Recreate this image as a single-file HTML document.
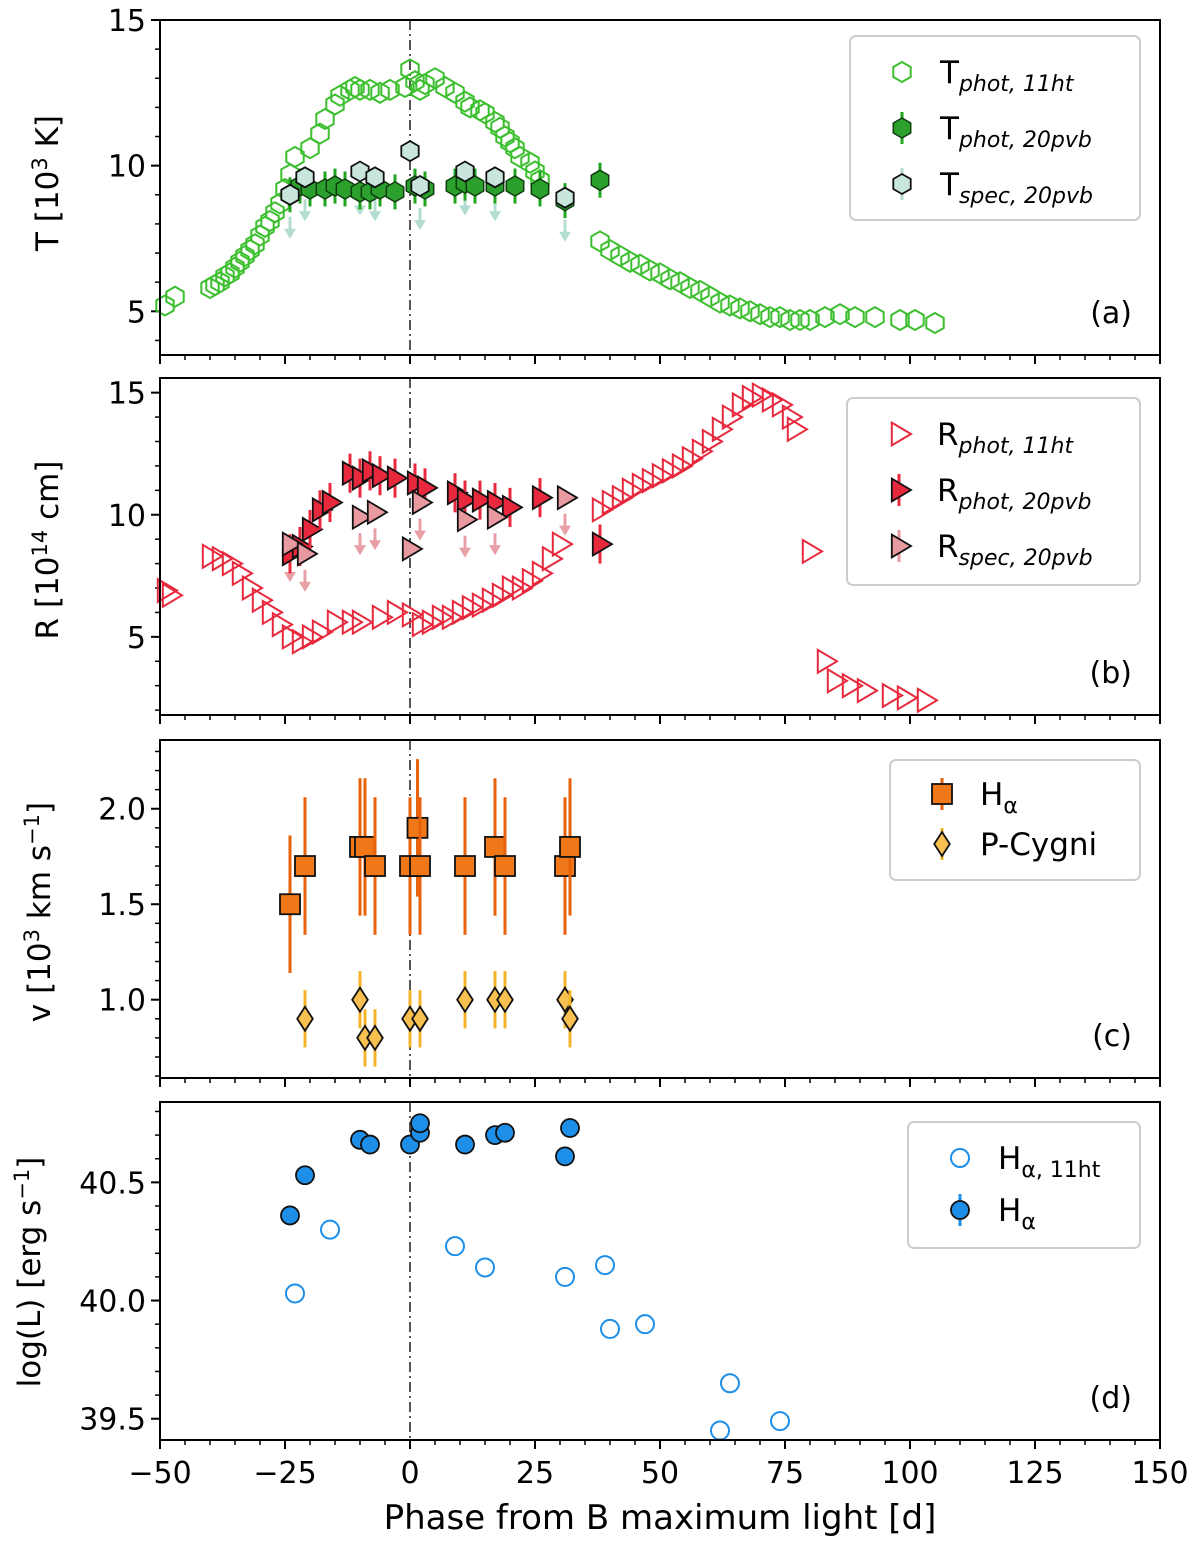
<!DOCTYPE html>
<html><head><meta charset="utf-8"><style>
body{margin:0;background:#fff}
svg{display:block;font-family:"DejaVu Sans","Liberation Sans",sans-serif}
</style></head><body>
<svg id="c" width="1200" height="1543" viewBox="0 0 1200 1543" xmlns="http://www.w3.org/2000/svg"></svg>
<script>
// ---- data ----
const tPhot11X=[-49,-47,-40,-39,-38,-37,-36,-35,-34,-33,-32,-31,-30,-29,-28,-27,-26,-25,-24,-23,-20,-18,-17,-15,-14,-12,-11,-10,-8,-6,-4,-1,0,1,2,3,5,7,9,11,12,14,15,17,18,19,20,21,22,24,25,26,38,40,42,44,46,48,50,52,54,56,58,60,62,64,66,68,70,72,74,76,78,80,83,86,89,93,98,101,105];
const tPhot11Y=[5.2,5.5,5.8,5.9,6.0,6.2,6.3,6.5,6.7,6.9,7.1,7.3,7.6,7.9,8.1,8.4,8.7,9.2,9.7,10.3,10.6,11.1,11.6,12.1,12.4,12.6,12.7,12.6,12.6,12.5,12.6,12.7,13.3,12.9,12.6,12.8,13.0,12.7,12.5,12.2,12.0,11.9,11.8,11.5,11.3,11.0,10.8,10.6,10.3,10.1,9.8,9.5,7.4,7.1,6.9,6.7,6.6,6.4,6.3,6.1,6.0,5.8,5.7,5.5,5.3,5.2,5.1,5.0,4.9,4.8,4.8,4.7,4.7,4.7,4.8,4.9,4.8,4.8,4.7,4.7,4.6];
const tPhot20X=[-24,-22,-20,-17,-15,-13,-10,-8,-6,-3,1,3,9,11,13,17,21,26,31,38];
const tPhot20Y=[9.0,9.3,9.2,9.2,9.3,9.2,9.1,9.1,9.2,9.1,9.3,9.2,9.3,9.4,9.3,9.3,9.3,9.2,8.8,9.5];
const tSpecX=[-24,-21,-10,-7,0,2,11,17,31];
const tSpecY=[9.0,9.6,9.8,9.6,10.5,9.3,9.8,9.6,8.9];
const rPhot11X=[-49,-48,-40,-38,-36,-34,-32,-30,-28,-26,-24,-22,-20,-18,-15,-12,-10,-6,-3,0,2,4,6,8,10,12,14,16,18,20,22,24,26,28,30,38,40,42,44,46,48,50,52,54,56,58,60,62,64,66,68,70,72,74,76,77,80,83,85,88,91,96,99,103];
const rPhot11Y=[6.9,6.7,8.3,8.2,8.0,7.6,7.0,6.5,6.0,5.5,5.0,4.8,5.0,5.2,5.6,5.6,5.6,5.8,6.0,5.9,5.5,5.6,5.8,5.8,6.0,6.2,6.3,6.5,6.7,7.0,7.0,7.3,7.6,8.2,8.8,10.2,10.5,10.7,11.0,11.2,11.4,11.6,11.8,12.0,12.3,12.6,13.0,13.5,14.0,14.5,14.8,14.9,14.7,14.5,14.0,13.5,8.5,4.0,3.2,3.0,2.8,2.6,2.5,2.4];
const rPhot20X=[-24,-22,-20,-18,-16,-12,-10,-8,-6,-3,1,3,9,11,14,17,20,26,38];
const rPhot20Y=[8.4,8.7,9.4,10.2,10.5,11.7,11.5,11.8,11.6,11.5,11.3,11.1,10.9,10.6,10.6,10.5,10.3,10.7,8.8];
const rSpecX=[-24,-21,-10,-7,0,2,11,17,31];
const rSpecY=[8.8,8.4,9.9,10.1,8.6,10.5,9.8,9.9,10.7];
const haVX=[-24,-21,-10,-9,-7,0,1.5,2,11,17,19,31,32];
const haVY=[1.5,1.7,1.8,1.8,1.7,1.7,1.9,1.7,1.7,1.8,1.7,1.7,1.8];
const pcX=[-21,-10,-9,-7,0,2,11,17,19,31,32];
const pcY=[0.9,1.0,0.8,0.8,0.9,0.9,1.0,1.0,1.0,1.0,0.9];
const ha11X=[-23,-16,9,15,31,39,40,47,62,64,74];
const ha11Y=[40.03,40.3,40.23,40.14,40.1,40.15,39.88,39.9,39.45,39.65,39.49];
const haLX=[-24,-21,-10,-8,0,2,2,11,17,19,31,32];
const haLY=[40.36,40.53,40.68,40.66,40.66,40.71,40.75,40.66,40.7,40.71,40.61,40.73];
const xTicks=[-50,-25,0,25,50,75,100,125,150];
// ---- layout ----
const svg=document.getElementById('c');
const NS='http://www.w3.org/2000/svg';
const X0=160,X1=1160;
const sx=v=>X0+(v+50)/200*(X1-X0);
function el(tag,attrs,parent){const e=document.createElementNS(NS,tag);for(const k in attrs)e.setAttribute(k,attrs[k]);(parent||svg).appendChild(e);return e;}
const panels=[
 {top:20,bot:355,y0:3.5,y1:15.0,ticks:[5,10,15],minor:1,lbl:'(a)',name:'panel-a-temperature'},
 {top:378,bot:715,y0:1.8,y1:15.6,ticks:[5,10,15],minor:1,lbl:'(b)',name:'panel-b-radius'},
 {top:740,bot:1078,y0:0.59,y1:2.36,ticks:[1.0,1.5,2.0],minor:0.1,lbl:'(c)',name:'panel-c-velocity',fmt:1},
 {top:1102,bot:1440,y0:39.41,y1:40.84,ticks:[39.5,40.0,40.5],minor:0.1,lbl:'(d)',name:'panel-d-luminosity',fmt:1}
];
panels.forEach(p=>{p.sy=v=>p.bot-(v-p.y0)/(p.y1-p.y0)*(p.bot-p.top);});
function hex(g,x,y,r,fill,stroke,sw){let pts=[];for(let i=0;i<6;i++){const a=Math.PI/2+i*Math.PI/3;pts.push((x+r*Math.cos(a)).toFixed(1)+','+(y-r*Math.sin(a)).toFixed(1));}return el('polygon',{points:pts.join(' '),fill,stroke,'stroke-width':sw},g);}
function tri(g,x,y,r,fill,stroke,sw){const pts=[[x+r,y],[x-r*0.6,y-r*0.95],[x-r*0.6,y+r*0.95]].map(p=>p.map(n=>n.toFixed(1)).join(','));return el('polygon',{points:pts.join(' '),fill,stroke,'stroke-width':sw},g);}
function diam(g,x,y,r,fill,stroke,sw){return el('polygon',{points:`${x},${y-r} ${x+r*0.65},${y} ${x},${y+r} ${x-r*0.65},${y}`,fill,stroke,'stroke-width':sw},g);}
function ebar(g,x,y1,y2,c){return el('line',{x1:x,x2:x,y1,y2,stroke:c,'stroke-width':3},g);}
function arrow(g,x,y,c){el('line',{x1:x,x2:x,y1:y-16,y2:y,stroke:c,'stroke-width':3},g);el('polygon',{points:`${x-6},${y-4} ${x+6},${y-4} ${x},${y+6}`,fill:c},g);}
// axes
panels.forEach((p,i)=>{
 const g=el('g',{});   p.g=g;
 el('line',{x1:sx(0),x2:sx(0),y1:p.top,y2:p.bot,stroke:'#555','stroke-width':2,'stroke-dasharray':'10 4 2 4'},g);
 for(let v=Math.ceil(p.y0/p.minor)*p.minor;v<=p.y1;v+=p.minor){const y=p.sy(v);el('line',{x1:X0-5,x2:X0,y1:y,y2:y,stroke:'#000','stroke-width':1.5},g);}
 p.ticks.forEach(t=>{const y=p.sy(t);el('line',{x1:X0-9,x2:X0,y1:y,y2:y,stroke:'#000','stroke-width':2},g);
  const tx=el('text',{x:X0-14,y:y+11,'text-anchor':'end','font-size':30},g);tx.textContent=p.fmt?t.toFixed(1):t;});
 for(let v=-50;v<=150;v+=5){const x=sx(v);const maj=v%25===0;el('line',{x1:x,x2:x,y1:p.bot,y2:p.bot+(maj?9:5),stroke:'#000','stroke-width':maj?2:1.5},g);}
 const lb=el('text',{x:1132,y:p.bot-32,'text-anchor':'end','font-size':30},g);lb.textContent=p.lbl;
 
});
// x ticks labels
const xl=el('g',{});
xTicks.forEach(t=>{const tx=el('text',{x:sx(t),y:1483,'text-anchor':'middle','font-size':30},xl);tx.textContent=(t<0?'\u2212':'')+Math.abs(t);});
const xt=el('text',{x:660,y:1529,'text-anchor':'middle','font-size':34},xl);xt.textContent='Phase from B maximum light [d]';

// y titles
function ytitle(cx,cy,html,name){const t=el('text',{transform:`translate(${cx},${cy}) rotate(-90)`,'text-anchor':'middle','font-size':31});t.innerHTML=html;}
ytitle(58,183,'T [10<tspan dy="-11" font-size="21">3</tspan><tspan dy="11"> K]</tspan>','y-axis-title-temperature');
ytitle(58,550,'R [10<tspan dy="-11" font-size="21">14</tspan><tspan dy="11"> cm]</tspan>','y-axis-title-radius');
ytitle(50,912,'v [10<tspan dy="-11" font-size="21">3</tspan><tspan dy="11"> km s</tspan><tspan dy="-11" font-size="21">\u22121</tspan><tspan dy="11">]</tspan>','y-axis-title-velocity');
ytitle(40,1272,'log(L) [erg s<tspan dy="-11" font-size="21">\u22121</tspan><tspan dy="11">]</tspan>','y-axis-title-luminosity');
// ---- series ----
const A=panels[0],B=panels[1],C=panels[2],D=panels[3];
const gA=A.g,gB=B.g,gC=C.g,gD=D.g;
tPhot11X.forEach((x,i)=>{const m=hex(gA,sx(x),A.sy(tPhot11Y[i]),10,'none','#3cbf2e',2);});
tSpecX.forEach((x,i)=>{if(x!==0)arrow(gA,sx(x),A.sy(tSpecY[i])+38,'#b3ddd0');});
tPhot20X.forEach((x,i)=>{const X=sx(x),y=A.sy(tPhot20Y[i]);ebar(gA,X,A.sy(tPhot20Y[i]+0.6),A.sy(tPhot20Y[i]-0.6),'#1fa51f');const m=hex(gA,X,y,10,'#2ca02c','#0d3d0d',1.5);});
tSpecX.forEach((x,i)=>{const m=hex(gA,sx(x),A.sy(tSpecY[i]),10,'#c9e6dc','#111',1.8);});
rPhot11X.forEach((x,i)=>{const m=tri(gB,sx(x),B.sy(rPhot11Y[i]),12,'none','#e8283c',2);});
rSpecX.forEach((x,i)=>{if(x!==0)arrow(gB,sx(x),B.sy(rSpecY[i])+32,'#e8a0a6');});
rPhot20X.forEach((x,i)=>{const X=sx(x);ebar(gB,X,B.sy(rPhot20Y[i]+0.8),B.sy(rPhot20Y[i]-0.8),'#e8283c');const m=tri(gB,X,B.sy(rPhot20Y[i]),12,'#e8283c','#111',1.8);});
rSpecX.forEach((x,i)=>{const m=tri(gB,sx(x),B.sy(rSpecY[i]),12,'#e89aa0','#111',1.8);});
haVX.forEach((x,i)=>{const X=sx(x);ebar(gC,X,C.sy(haVY[i]+0.36),C.sy(haVY[i]-0.36),'#e8620a');const m=el('rect',{x:X-10,y:C.sy(haVY[i])-10,width:20,height:20,fill:'#f07818',stroke:'#111','stroke-width':1.8},gC);});
pcX.forEach((x,i)=>{const X=sx(x);ebar(gC,X,C.sy(pcY[i]+0.15),C.sy(pcY[i]-0.15),'#f4b42a');const m=diam(gC,X,C.sy(pcY[i]),12,'#f8c050','#111',1.8);});
ha11X.forEach((x,i)=>{const m=el('circle',{cx:sx(x),cy:D.sy(ha11Y[i]),r:9,fill:'none',stroke:'#1e8fe8','stroke-width':2},gD);});
haLX.forEach((x,i)=>{const X=sx(x);ebar(gD,X,D.sy(haLY[i]+0.04),D.sy(haLY[i]-0.04),'#1e8fe8');const m=el('circle',{cx:X,cy:D.sy(haLY[i]),r:9,fill:'#1e8fe8',stroke:'#111','stroke-width':1.8},gD);});
// frames
panels.forEach(p=>{el('rect',{x:X0,y:p.top,width:X1-X0,height:p.bot-p.top,fill:'none',stroke:'#000','stroke-width':2},p.g);});
// legends
function legend(x,y,w,h,entries,name){const g=el('g',{});
 el('rect',{x,y,width:w,height:h,rx:6,fill:'#fff',stroke:'#ccc','stroke-width':2},g);
 entries.forEach((e,i)=>{const cy=y+e.dy;e.draw(g,x+52,cy);const t=el('text',{x:x+90,y:cy+11,'font-size':31},g);t.innerHTML=e.html;});}
const sub=s=>`<tspan dy="8" font-size="22" font-style="italic">${s}</tspan>`;
legend(850,36,290,184,[
 {dy:36,html:'T'+sub('phot, 11ht'),draw:(g,x,y)=>hex(g,x,y,10,'none','#3cbf2e',2)},
 {dy:92,html:'T'+sub('phot, 20pvb'),draw:(g,x,y)=>{ebar(g,x,y-16,y+16,'#1fa51f');hex(g,x,y,10,'#2ca02c','#0d3d0d',1.5);}},
 {dy:148,html:'T'+sub('spec, 20pvb'),draw:(g,x,y)=>{ebar(g,x,y-16,y+16,'#b3ddd0');hex(g,x,y,10,'#c9e6dc','#111',1.8);}}
],'legend-temperature');
legend(847,398,293,187,[
 {dy:36,html:'R'+sub('phot, 11ht'),draw:(g,x,y)=>tri(g,x,y,12,'none','#e8283c',2)},
 {dy:92,html:'R'+sub('phot, 20pvb'),draw:(g,x,y)=>{ebar(g,x,y-16,y+16,'#e8283c');tri(g,x,y,12,'#e8283c','#111',1.8);}},
 {dy:148,html:'R'+sub('spec, 20pvb'),draw:(g,x,y)=>{ebar(g,x,y-16,y+16,'#e89aa0');tri(g,x,y,12,'#e89aa0','#111',1.8);}}
],'legend-radius');
legend(890,760,250,120,[
 {dy:34,html:'H<tspan dy="8" font-size="22">α</tspan>',draw:(g,x,y)=>{ebar(g,x,y-16,y+16,'#e8620a');el('rect',{x:x-10,y:y-10,width:20,height:20,fill:'#f07818',stroke:'#111','stroke-width':1.8},g);}},
 {dy:84,html:'P-Cygni',draw:(g,x,y)=>{ebar(g,x,y-16,y+16,'#f4b42a');diam(g,x,y,12,'#f8c050','#111',1.8);}}
],'legend-velocity');
legend(908,1122,232,126,[
 {dy:36,html:'H<tspan dy="8" font-size="22">α, 11ht</tspan>',draw:(g,x,y)=>el('circle',{cx:x,cy:y,r:9,fill:'none',stroke:'#1e8fe8','stroke-width':2},g)},
 {dy:88,html:'H<tspan dy="8" font-size="22">α</tspan>',draw:(g,x,y)=>{ebar(g,x,y-16,y+16,'#1e8fe8');el('circle',{cx:x,cy:y,r:9,fill:'#1e8fe8',stroke:'#111','stroke-width':1.8},g);}}
],'legend-luminosity');
</script>
</body></html>
